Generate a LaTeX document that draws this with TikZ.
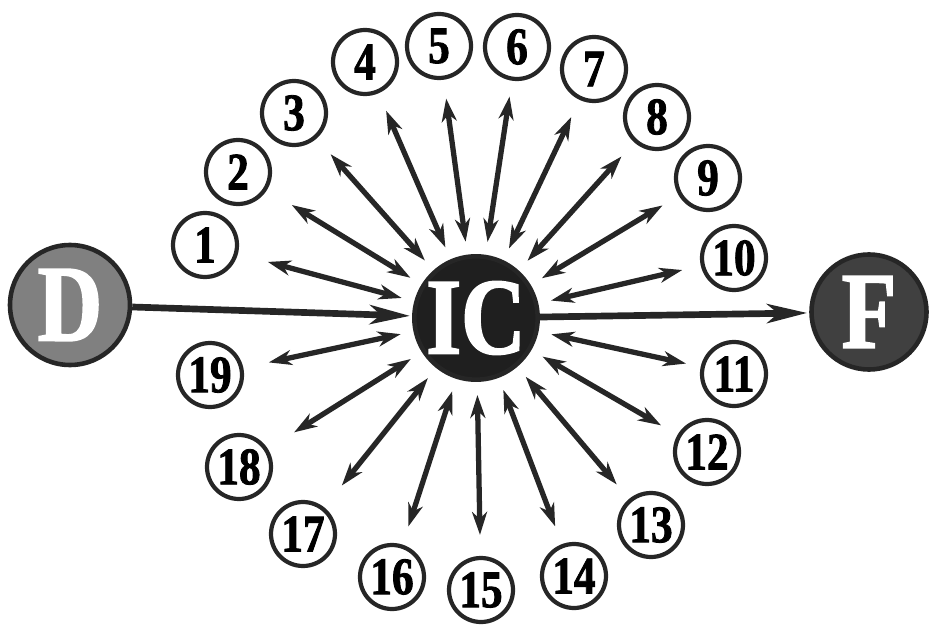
\documentclass[tikz,border=0pt]{standalone}
\usepackage{fontspec}
\newfontfamily\lblfont{Liberation Serif}[FakeStretch=0.82, BoldFeatures={FakeBold=1.6}]
\usetikzlibrary{arrows.meta}

\begin{document}
\begin{tikzpicture}[font=\lblfont\bfseries, >={Stealth[length=0.46cm,width=0.3cm,inset=0.14cm]},
      num/.style={draw=black!85, circle, line width=2.4pt, minimum size=1.28cm, inner sep=0pt, font=\lblfont\bfseries\fontsize{30}{30}\selectfont},
      big/.style={draw=black!85, circle, line width=2.6pt, minimum size=2.4cm, inner sep=0pt, text=white, font=\lblfont\bfseries\fontsize{62}{62}\selectfont},
      src/.style={big, fill=black!50},
      hub/.style={big, fill=black!88},
      snk/.style={big, fill=black!75, minimum size=2.3cm},
      spk/.style={<->, line width=3pt, draw=black!85, shorten <=0.26cm, shorten >=0.38cm},
      flw/.style={line width=3.8pt, draw=black!85, -{Stealth[length=0.8cm,width=0.38cm,inset=0.22cm]}, shorten >=0.04cm}]
    \useasboundingbox (0,0) rectangle (18.58,-12.5);
    \node[src] (d)  at (1.40,-6.10)  {D};
    \node[hub] (ic) at (9.52,-6.36)  {IC};
    \node[snk] (f)  at (17.38,-6.24) {F};
    \node[num] (n1)  at (4.10,-4.90)   {1};
    \node[num] (n2)  at (4.76,-3.44)   {2};
    \node[num] (n3)  at (5.88,-2.26)   {3};
    \node[num] (n4)  at (7.30,-1.24)   {4};
    \node[num] (n5)  at (8.78,-0.92)   {5};
    \node[num] (n6)  at (10.34,-0.94)  {6};
    \node[num] (n7)  at (11.88,-1.38)  {7};
    \node[num] (n8)  at (13.14,-2.34)  {8};
    \node[num] (n9)  at (14.16,-3.56)  {9};
    \node[num] (n10) at (14.68,-5.16)  {10};
    \node[num] (n11) at (14.68,-7.48)  {11};
    \node[num] (n12) at (14.14,-9.04)  {12};
    \node[num] (n13) at (13.02,-10.50) {13};
    \node[num] (n14) at (11.48,-11.52) {14};
    \node[num] (n15) at (9.62,-11.80)  {15};
    \node[num] (n16) at (7.84,-11.54)  {16};
    \node[num] (n17) at (6.06,-10.68)  {17};
    \node[num] (n18) at (4.78,-9.34)   {18};
    \node[num] (n19) at (4.20,-7.50)   {19};
    \draw[flw] (d) -- (ic);
    \draw[flw] (ic) -- (f);
    \draw[spk, shorten >=0.62cm] (ic) -- (n1);
    \draw[spk, shorten >=0.58cm] (ic) -- (n2);
    \draw[spk, shorten >=0.42cm] (ic) -- (n3);
    \draw[spk] (ic) -- (n4);
    \draw[spk] (ic) -- (n5);
    \draw[spk, shorten >=0.32cm] (ic) -- (n6);
    \draw[spk] (ic) -- (n7);
    \draw[spk] (ic) -- (n8);
    \draw[spk] (ic) -- (n9);
    \draw[spk] (ic) -- (n10);
    \draw[spk, shorten >=0.3cm] (ic) -- (n11);
    \draw[spk] (ic) -- (n12);
    \draw[spk] (ic) -- (n13);
    \draw[spk] (ic) -- (n14);
    \draw[spk, shorten >=0.42cm] (ic) -- (n15);
    \draw[spk] (ic) -- (n16);
    \draw[spk, shorten >=0.56cm] (ic) -- (n17);
    \draw[spk, shorten >=0.62cm] (ic) -- (n18);
    \draw[spk, shorten >=0.52cm] (ic) -- (n19);
  \end{tikzpicture}
\end{document}
